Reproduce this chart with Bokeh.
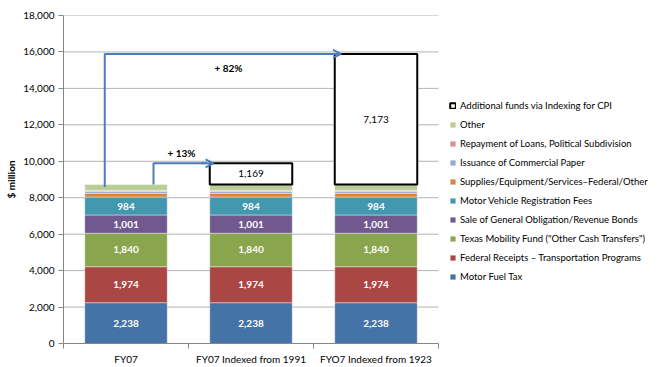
from bokeh.plotting import figure
from bokeh.models import (ColumnDataSource, FixedTicker, Legend, LegendItem, Arrow,
                          OpenHead, Label, NumeralTickFormatter, Range1d)
from bokeh.core.properties import value
from bokeh.embed import file_html
from bokeh.resources import INLINE

FONT = "Lato"

categories = ["FY07", "FY07 Indexed from 1991", "FYO7 Indexed from 1923"]

series_names = [
    "Motor Fuel Tax",
    "Federal Receipts \u2013 Transportation Programs",
    "Texas Mobility Fund (\"Other Cash Transfers\")",
    "Sale of General Obligation/Revenue Bonds",
    "Motor Vehicle Registration Fees",
    "Supplies/Equipment/Services\u2013Federal/Other",
    "Issuance of Commercial Paper",
    "Repayment of Loans, Political Subdivision",
    "Other",
]
series_colors = ["#4572A7", "#AA4643", "#89A54E", "#71588F", "#4198AF",
                 "#DB843D", "#93A9CF", "#D19392", "#B9CD96"]

motor_fuel_tax = [2238, 2238, 2238]
federal_receipts = [1974, 1974, 1974]
texas_mobility = [1840, 1840, 1840]
bonds = [1001, 1001, 1001]
vehicle_fees = [984, 984, 984]
supplies = [205, 205, 205]
commercial_paper = [100, 100, 100]
loan_repayment = [60, 60, 60]
other = [318, 318, 318]
series_values = [motor_fuel_tax, federal_receipts, texas_mobility, bonds, vehicle_fees,
                 supplies, commercial_paper, loan_repayment, other]
labelled_series = 5

additional_name = "Additional funds via Indexing for CPI"
additional = [0, 1169, 7173]

y_ticks = list(range(0, 18001, 2000))

n_cat = len(categories)
xs = [i + 0.5 for i in range(n_cat)]
bar_w = 0.66

base = [sum(s[i] for s in series_values) for i in range(n_cat)]
tops = [base[i] + additional[i] for i in range(n_cat)]

W, H = 667, 367
left, right, top, bottom = 63, 0, 15, 23
cat_px = 125
frame_w = W - left - right
x_max = frame_w / cat_px

p = figure(width=W, height=H, output_backend="svg", toolbar_location=None,
           x_range=Range1d(0, x_max), y_range=Range1d(0, 18000),
           min_border_left=left, min_border_right=right, min_border_top=top,
           min_border_bottom=bottom)
p.outline_line_color = None
p.background_fill_color = "white"

# gridlines across the category area only
p.segment(x0=[0] * len(y_ticks[1:]), x1=[n_cat] * len(y_ticks[1:]), y0=y_ticks[1:],
          y1=y_ticks[1:], line_color="#B3B3B3", line_width=1)

keys = [f"s{i}" for i in range(len(series_values))]
data = {"x": xs}
for k, v in zip(keys, series_values):
    data[k] = v
src = ColumnDataSource(data)
rs = p.vbar_stack(keys, x="x", width=bar_w, color=series_colors, source=src,
                  line_color="white", line_width=0.6, line_alpha=0.7)

add_idx = [i for i in range(n_cat) if additional[i] > 0]
add_src = ColumnDataSource(dict(x=[xs[i] for i in add_idx], bottom=[base[i] for i in add_idx],
                                top=[tops[i] for i in add_idx],
                                ymid=[(base[i] + tops[i]) / 2 for i in add_idx],
                                lbl=[f"{additional[i]:,}" for i in add_idx]))
r_add = p.vbar(x="x", bottom="bottom", top="top", width=bar_w, source=add_src,
               fill_color="white", line_color="black", line_width=2)

# segment labels
lx, ly, lt = [], [], []
for i in range(n_cat):
    cum = 0
    for j, s in enumerate(series_values):
        if j < labelled_series:
            lx.append(xs[i]); ly.append(cum + s[i] / 2); lt.append(f"{s[i]:,}")
        cum += s[i]
p.text(x=lx, y=ly, text=lt, text_color="white", text_font=value(FONT),
       text_font_size="10px", text_font_style="bold", text_align="center",
       text_baseline="middle")
p.text(x="x", y="ymid", text="lbl", source=add_src, text_color="black",
       text_font=value(FONT), text_font_size="10px", text_align="center",
       text_baseline="middle")

# arrows
blue = "#4A7EBB"
a1x = xs[0] - 0.17
a1_end = xs[2] - bar_w / 2 + 0.05
p.line([a1x, a1x, a1_end - 0.05], [base[0] - 130, tops[2], tops[2]], line_color=blue, line_width=2)
p.add_layout(Arrow(end=OpenHead(size=8, line_color=blue, line_width=2), x_start=a1_end - 0.1,
                   y_start=tops[2], x_end=a1_end, y_end=tops[2], line_color=blue, line_width=2))
a2x = xs[0] + 0.22
a2_end = xs[1] - bar_w / 2 + 0.03
p.line([a2x, a2x, a2_end - 0.05], [base[0], tops[1], tops[1]], line_color=blue, line_width=2)
p.add_layout(Arrow(end=OpenHead(size=8, line_color=blue, line_width=2), x_start=a2_end - 0.1,
                   y_start=tops[1], x_end=a2_end, y_end=tops[1], line_color=blue, line_width=2))

pct2 = round((tops[2] - base[0]) / base[0] * 100)
pct1 = round((tops[1] - base[0]) / base[0] * 100)
p.add_layout(Label(x=1.32, y=tops[2] - 800, text=f"+ {pct2}%", text_align="center",
                   text_baseline="middle", text_font=FONT, text_font_size="10px",
                   text_font_style="bold", text_color="black"))
p.add_layout(Label(x=0.944, y=tops[1] + 560, text=f"+ {pct1}%", text_align="center",
                   text_baseline="middle", text_font=FONT, text_font_size="10px",
                   text_font_style="bold", text_color="black"))

# axes
axis_color = "#868686"
p.yaxis.ticker = FixedTicker(ticks=y_ticks)
p.yaxis.formatter = NumeralTickFormatter(format="0,0")
p.yaxis.axis_line_color = axis_color
p.yaxis.major_tick_line_color = axis_color
p.yaxis.major_tick_out = 5
p.yaxis.major_tick_in = 0
p.yaxis.minor_tick_line_color = None
p.yaxis.major_label_text_font = FONT
p.yaxis.major_label_text_font_size = "10px"
p.yaxis.major_label_text_color = "black"
p.yaxis.major_label_standoff = 4
p.yaxis.axis_label = "$ million"
p.yaxis.axis_label_text_font = FONT
p.yaxis.axis_label_text_font_size = "10px"
p.yaxis.axis_label_text_font_style = "bold"
p.yaxis.axis_label_text_color = "black"
p.yaxis.axis_label_standoff = 3

p.xaxis.ticker = FixedTicker(ticks=xs, minor_ticks=list(range(n_cat + 1)))
p.xaxis.major_label_overrides = {x: c for x, c in zip(xs, categories)}
p.xaxis.bounds = (0, n_cat)
p.xaxis.axis_line_color = axis_color
p.xaxis.major_tick_line_color = None
p.xaxis.minor_tick_line_color = axis_color
p.xaxis.minor_tick_out = 5
p.xaxis.minor_tick_in = 0
p.xaxis.major_label_text_font = FONT
p.xaxis.major_label_text_font_size = "10px"
p.xaxis.major_label_text_color = "black"
p.xaxis.major_label_standoff = 3

p.xgrid.grid_line_color = None
p.ygrid.grid_line_color = None

items = [LegendItem(label=additional_name, renderers=[r_add])]
for name, r in reversed(list(zip(series_names, rs))):
    items.append(LegendItem(label=name, renderers=[r]))
legend = Legend(items=items, location=(386, 60), glyph_width=7, glyph_height=7,
                label_text_font=FONT, label_text_font_size="9.5px", label_height=14,
                label_text_color="black",
                spacing=5, label_standoff=4, padding=6, margin=0,
                border_line_color=None, background_fill_alpha=0)
p.add_layout(legend)

open("out.html", "w").write(file_html(p, INLINE))
